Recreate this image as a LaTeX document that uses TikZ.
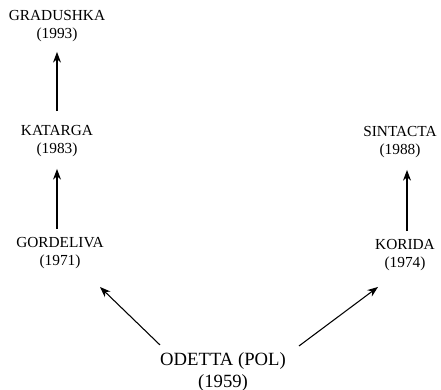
\documentclass[tikz,border=0pt]{standalone}
\usepackage{fontspec}
\setmainfont{Liberation Serif}
\usetikzlibrary{arrows.meta,calc}
\begin{document}
\begin{tikzpicture}[x=0.75pt,y=-0.75pt,
  lbl/.style={inner sep=0pt,align=center,font=\fontsize{11.5}{13.5}\selectfont},
  root/.style={inner sep=0pt,align=center,font=\fontsize{14}{17}\selectfont},
  arr/.style={line width=0.8pt,-{Stealth[length=8pt,width=6pt]}}]
\useasboundingbox (0,0) rectangle (441,389);
\node[lbl] (grad) at (57,26) {GRADUSHKA\\(1993)};
\node[lbl] (kat) at (57,141) {KATARGA\\(1983)};
\node[lbl] (gord) at (60,253) {GORDELIVA\\(1971)};
\node[lbl] (sin) at (400,142) {SINTACTA\\(1988)};
\node[lbl] (kor) at (405,255) {KORIDA\\(1974)};
\node[root] (od) at (223,372) {ODETTA (POL)\\(1959)};
\draw[arr] ($(kat.north)+(0,-14)$) -- ($(grad.south)+(0,10)$);
\draw[arr] ($(gord.north)+(-3,-8)$) -- ($(kat.south)+(0,12)$);
\draw[arr] ($(kor.north)+(2,-8)$) -- ($(sin.south)+(7,12)$);
\draw[arr] ($(od.north west)+(0,-7)$) -- ($(gord.south)+(40,18)$);
\draw[arr] ($(od.north east)+(13,-6)$) -- ($(kor.south)+(-27,16)$);
\end{tikzpicture}
\end{document}
